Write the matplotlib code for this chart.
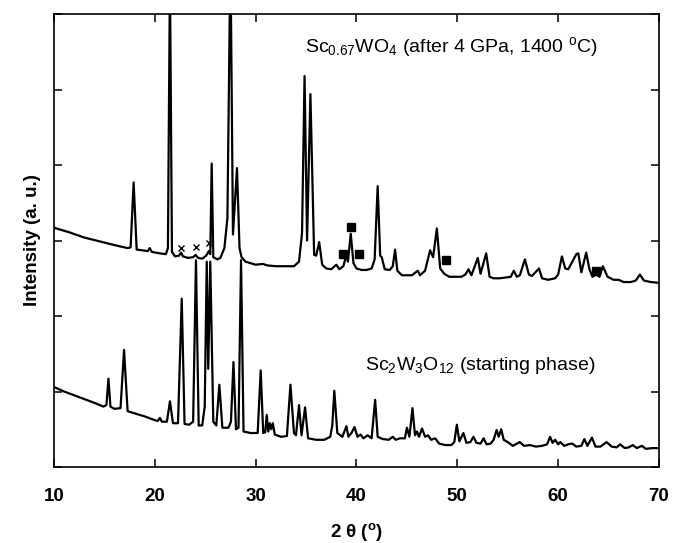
import numpy as np
import matplotlib
matplotlib.use("Agg")
import matplotlib.pyplot as plt

plt.rcParams['font.family'] = ['Liberation Sans', 'DejaVu Sans']
plt.rcParams['mathtext.fontset'] = 'custom'
plt.rcParams['mathtext.rm'] = 'Liberation Sans'
plt.rcParams['mathtext.it'] = 'Liberation Sans:italic'
plt.rcParams['mathtext.bf'] = 'Liberation Sans:bold'

# Sc0.67WO4 after 4 GPa, 1400 C (upper trace), vertices
top_x = [10.0, 11.5, 13.0, 14.5, 16.0, 17.3, 17.6, 17.9, 18.2, 18.8, 19.3, 19.5, 19.7, 20.5, 21.1,
         21.3, 21.5, 21.7, 22.0, 22.4, 22.6, 22.8, 23.3, 23.8, 24.05, 24.3, 24.7, 25.1, 25.35, 25.5,
         25.64, 25.8, 26.2, 26.5, 26.9, 27.2, 27.5, 27.75, 28.15, 28.4, 28.6, 29.0, 29.5, 30.0, 30.7,
         31.2, 32.0, 33.0, 33.8, 34.3, 34.6, 34.85, 35.1, 35.43, 35.8, 36.0, 36.3, 36.6, 37.0, 37.5,
         38.0, 38.3, 38.7, 38.97, 39.15, 39.43, 39.7, 40.0, 40.5, 41.0, 41.5, 41.8, 42.1, 42.35, 42.5,
         42.8, 43.3, 43.6, 43.83, 44.05, 44.5, 45.0, 45.5, 46.08, 46.3, 46.8, 47.3, 47.6, 47.97, 48.3,
         48.7, 49.2, 49.8, 50.4, 50.8, 51.1, 51.4, 52.03, 52.3, 52.86, 53.2, 53.6, 54.2, 54.8, 55.3,
         55.6, 55.9, 56.2, 56.7, 57.1, 57.4, 58.1, 58.4, 59.0, 59.7, 60.0, 60.37, 60.7, 61.0, 61.8,
         62.0, 62.3, 62.78, 63.1, 63.4, 63.8, 64.1, 64.43, 64.9, 65.5, 66.0, 66.5, 67.2, 67.7, 68.1,
         68.5, 69.2, 70.0]
top_y = [3.17, 3.11, 3.04, 2.99, 2.94, 2.90, 2.91, 3.77, 2.88, 2.87, 2.86, 2.90, 2.85, 2.83, 2.82,
         2.90, 6.5, 2.85, 2.79, 2.80, 2.84, 2.79, 2.77, 2.78, 2.81, 2.77, 2.76, 2.80, 2.86, 2.82,
         4.02, 2.78, 2.75, 2.77, 2.90, 3.30, 6.8, 3.08, 3.96, 2.90, 2.78, 2.72, 2.70, 2.68, 2.69,
         2.67, 2.66, 2.66, 2.66, 2.72, 3.10, 5.18, 3.00, 4.94, 2.81, 2.80, 2.98, 2.68, 2.63, 2.62,
         2.68, 2.62, 2.66, 2.80, 2.72, 3.09, 2.70, 2.63, 2.61, 2.61, 2.63, 2.75, 3.72, 2.80, 2.78,
         2.62, 2.61, 2.66, 2.88, 2.60, 2.54, 2.54, 2.54, 2.60, 2.54, 2.60, 2.87, 2.78, 3.16, 2.63,
         2.56, 2.52, 2.52, 2.52, 2.55, 2.62, 2.54, 2.77, 2.56, 2.83, 2.52, 2.50, 2.50, 2.51, 2.52,
         2.60, 2.52, 2.54, 2.75, 2.55, 2.53, 2.63, 2.50, 2.48, 2.50, 2.55, 2.79, 2.63, 2.62, 2.82,
         2.83, 2.58, 2.84, 2.62, 2.52, 2.55, 2.52, 2.66, 2.52, 2.48, 2.48, 2.45, 2.45, 2.47, 2.55,
         2.47, 2.45, 2.44]

# Sc2W3O12 starting phase (lower trace)
bot_x = [10.0, 11.0, 12.0, 13.0, 14.0, 14.9, 15.2, 15.4, 15.6, 16.0, 16.6, 16.95, 17.3, 18.0, 19.0,
         20.0, 20.3, 20.5, 20.7, 21.2, 21.5, 21.8, 22.3, 22.67, 22.95, 23.4, 23.8, 24.08, 24.35, 24.7,
         24.95, 25.15, 25.3, 25.5, 25.8, 26.1, 26.4, 26.7, 27.3, 27.55, 27.8, 28.05, 28.3, 28.55, 28.8,
         29.5, 30.2, 30.5, 30.75, 30.95, 31.1, 31.25, 31.4, 31.55, 31.7, 31.9, 32.5, 33.1, 33.45, 33.8,
         34.0, 34.3, 34.55, 34.9, 35.2, 36.0, 36.8, 37.4, 37.6, 37.8, 38.1, 38.6, 39.0, 39.2, 39.5,
         39.8, 40.1, 40.4, 40.7, 41.1, 41.5, 41.85, 42.1, 42.6, 43.2, 43.6, 43.9, 44.3, 44.8, 45.0,
         45.25, 45.55, 45.8, 46.0, 46.2, 46.5, 46.8, 47.1, 47.4, 47.8, 48.2, 48.8, 49.4, 49.7, 49.95,
         50.2, 50.6, 50.9, 51.3, 51.6, 51.9, 52.3, 52.6, 52.9, 53.3, 53.6, 53.9, 54.1, 54.35, 54.6,
         55.0, 55.5, 56.2, 56.6, 57.2, 57.8, 58.4, 58.9, 59.2, 59.45, 59.7, 60.0, 60.2, 60.6, 61.0,
         61.4, 61.8, 62.3, 62.6, 62.9, 63.35, 63.7, 64.2, 64.8, 65.3, 65.8, 66.15, 66.6, 67.0, 67.4,
         67.8, 68.3, 68.7, 69.3, 70.0]
bot_y = [1.06, 1.00, 0.95, 0.90, 0.85, 0.80, 0.82, 1.17, 0.80, 0.77, 0.78, 1.55, 0.74, 0.71, 0.67,
         0.62, 0.61, 0.65, 0.60, 0.60, 0.87, 0.58, 0.58, 2.23, 0.57, 0.56, 0.60, 2.74, 0.55, 0.55,
         0.80, 2.72, 1.30, 2.72, 0.60, 0.55, 1.09, 0.52, 0.52, 0.60, 1.39, 0.50, 0.52, 2.74, 0.47,
         0.45, 0.45, 1.28, 0.45, 0.46, 0.69, 0.47, 0.58, 0.50, 0.58, 0.43, 0.40, 0.41, 1.09, 0.45,
         0.42, 0.82, 0.42, 0.79, 0.38, 0.36, 0.36, 0.40, 0.55, 1.01, 0.45, 0.40, 0.54, 0.40, 0.45,
         0.53, 0.40, 0.43, 0.38, 0.42, 0.38, 0.89, 0.40, 0.37, 0.36, 0.40, 0.36, 0.38, 0.38, 0.52,
         0.40, 0.78, 0.42, 0.47, 0.40, 0.51, 0.40, 0.42, 0.36, 0.38, 0.31, 0.29, 0.29, 0.33, 0.56,
         0.34, 0.45, 0.32, 0.33, 0.40, 0.32, 0.31, 0.38, 0.30, 0.31, 0.36, 0.49, 0.40, 0.50, 0.36,
         0.33, 0.28, 0.33, 0.28, 0.29, 0.27, 0.28, 0.30, 0.40, 0.32, 0.36, 0.30, 0.33, 0.28, 0.30,
         0.31, 0.27, 0.28, 0.37, 0.28, 0.39, 0.27, 0.27, 0.33, 0.27, 0.26, 0.30, 0.25, 0.26, 0.29,
         0.25, 0.28, 0.24, 0.25, 0.25]

# impurity markers
cross_x = [22.6, 24.05, 25.4]
cross_y = [2.905, 2.918, 2.967]
square_x = [38.7, 39.5, 40.2, 48.9, 63.75]
square_y = [2.82, 3.175, 2.82, 2.74, 2.60]

fig = plt.figure(figsize=(6.73, 5.43), dpi=100)
ax = fig.add_axes([0.0802, 0.140, 0.8990, 0.834])

ax.plot(bot_x, bot_y, color='black', lw=1.6, solid_joinstyle='round')
ax.plot(top_x, top_y, color='black', lw=1.6, solid_joinstyle='round')
ax.plot(cross_x, cross_y, 'x', color='black', ms=4, mew=1.0)
ax.plot(square_x, square_y, 's', color='black', ms=5.5)

ax.set_xlim(10, 70)
ax.set_ylim(0, 6)
ax.set_xticks(np.arange(10, 71, 10))
ax.set_yticks(np.arange(0, 7, 1))
ax.set_yticklabels([])
ax.tick_params(direction='in', top=True, right=True, length=6, width=1.1, pad=15)
ax.tick_params(axis='x', labelsize=13.5)
for lab in ax.get_xticklabels():
    lab.set_fontweight('bold')
for s in ax.spines.values():
    s.set_linewidth(1.2)

ax.set_xlabel(r"2 θ ($^\mathbf{o}$)", fontsize=13.5, fontweight='bold', labelpad=12)
ax.set_ylabel("Intensity (a. u.)", fontsize=13.5, fontweight='bold')
ax.yaxis.set_label_coords(-0.022, 0.5)

ax.text(34.9, 5.5, r"Sc$_{0.67}$WO$_4$ (after 4 GPa, 1400 $^{\rm o}$C)", fontsize=14)
ax.text(40.85, 1.28, r"Sc$_2$W$_3$O$_{12}$ (starting phase)", fontsize=14)

fig.savefig("out.png", dpi=100)
